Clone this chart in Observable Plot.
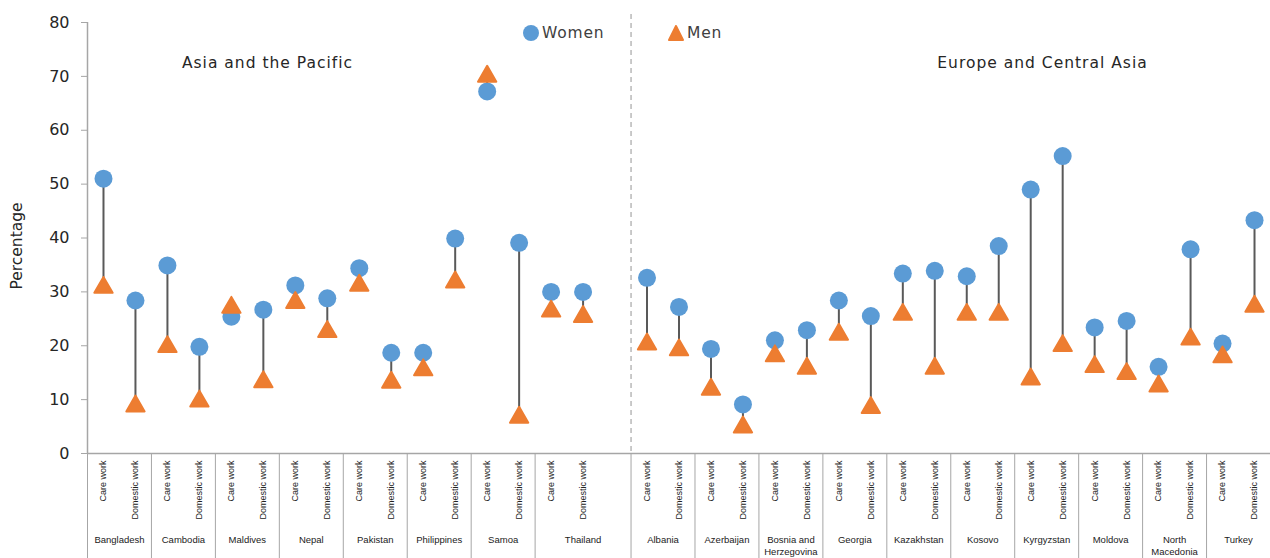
<!DOCTYPE html>
<html>
<head>
<meta charset="utf-8">
<script src="https://cdn.jsdelivr.net/npm/d3@7"></script>
<script src="https://cdn.jsdelivr.net/npm/@observablehq/plot@0.6"></script>
<style>
  html, body { margin: 0; padding: 0; background: #fff; }
  #wrap { position: relative; width: 1270px; height: 558px; }
  #legend { position: absolute; top: 20px; left: 0; width: 1270px; height: 28px; font-family: "DejaVu Sans", sans-serif; font-size: 15.5px; color: #404040; letter-spacing: 0.8px; }
  #legend .item { position: absolute; top: 0; display: flex; align-items: center; height: 26px; }
  #legend svg { display: block; margin-right: 2px; }
</style>
</head>
<body>
<div id="wrap">
  <div id="chart"></div>
  <div id="legend"></div>
</div>
<script>
// ---------------- data ----------------
const regionNames = ["Asia and the Pacific", "Europe and Central Asia"];
const asiaCountries = ["Bangladesh", "Cambodia", "Maldives", "Nepal", "Pakistan", "Philippines", "Samoa", "Thailand"];
const europeCountries = ["Albania", "Azerbaijan", "Bosnia and\nHerzegovina", "Georgia", "Kazakhstan", "Kosovo", "Kyrgyzstan", "Moldova", "North\nMacedonia", "Turkey"];
const workTypes = ["Care work", "Domestic work"];
// values in pairs per country: [care work, domestic work]
const asiaWomen = [51.0, 28.4, 34.9, 19.8, 25.4, 26.7, 31.2, 28.8, 34.4, 18.7, 18.7, 39.9, 67.2, 39.1, 30.0, 30.0];
const asiaMen   = [30.8, 8.8, 19.8, 9.7, 27.1, 13.3, 28.0, 22.6, 31.2, 13.2, 15.5, 31.8, 70.0, 6.7, 26.4, 25.4];
const europeWomen = [32.6, 27.2, 19.4, 9.1, 21.0, 22.9, 28.4, 25.5, 33.4, 33.9, 32.9, 38.5, 49.0, 55.2, 23.4, 24.6, 16.1, 37.9, 20.4, 43.3];
const europeMen   = [20.3, 19.2, 11.9, 4.9, 18.1, 15.8, 22.1, 8.5, 25.8, 15.8, 25.8, 25.8, 13.8, 20.0, 16.1, 14.8, 12.5, 21.2, 17.9, 27.3];
const yTicks = [0, 10, 20, 30, 40, 50, 60, 70, 80];
const seriesNames = ["Women", "Men"];
const colors = {Women: "#5B9BD5", Men: "#ED7D31"};

// ---------------- build table ----------------
const regions = [
  {name: regionNames[0], countries: asiaCountries, women: asiaWomen, men: asiaMen},
  {name: regionNames[1], countries: europeCountries, women: europeWomen, men: europeMen}
];
const rows = [];
const groups = [];
const regionStarts = [];
let slot = 0;
regions.forEach((reg, ri) => {
  if (ri > 0) slot += 1; // empty slot separating regions
  reg.countries.forEach((c, ci) => {
    if (ci === 0) regionStarts.push(slot);
    groups.push({country: c, first: slot});
    workTypes.forEach((w, wi) => {
      rows.push({slot, region: reg.name, country: c, work: w,
                 women: reg.women[ci * 2 + wi], men: reg.men[ci * 2 + wi]});
      slot += 1;
    });
  });
});
const nSlots = slot;
groups.forEach((g, i) => {
  g.left = g.first - 0.5;
  g.right = i < groups.length - 1 ? groups[i + 1].first - 0.5 : nSlots - 0.5;
  g.center = (g.left + g.right) / 2;
});
const boundaries = groups.map(g => g.left).concat([groups[groups.length - 1].right]);
const dividerX = regionStarts[1] - 0.5;
const workBySlot = new Map(rows.map(r => [r.slot, r.work]));
const countryByCenter = new Map(groups.map(g => [g.center, g.country]));

const grey = "#a6a6a6";
const chart = Plot.plot({
  width: 1270, height: 558,
  marginLeft: 87, marginRight: 0, marginTop: 22, marginBottom: 105,
  style: {fontFamily: "DejaVu Sans, sans-serif", background: "white", overflow: "visible"},
  x: {domain: [-0.5, nSlots - 0.5], axis: null},
  y: {domain: [0, 80], axis: null},
  marks: [
    Plot.ruleX([dividerX], {stroke: grey, strokeWidth: 1.2, strokeDasharray: "5,4", insetTop: -8}),
    Plot.ruleX([boundaries[0]], {stroke: grey, strokeWidth: 1.5}),
    Plot.ruleY([0], {stroke: grey, strokeWidth: 1.5}),
    Plot.axisY({ticks: yTicks, tickSize: 6, tickPadding: 12, fontSize: 16, label: null, stroke: grey, fill: "#262626"}),
    Plot.text(["Percentage"], {frameAnchor: "left", textAnchor: "middle", dx: -70, dy: 8, rotate: -90, fontSize: 15.5, fill: "#262626"}),
    Plot.axisX({ticks: boundaries, tickSize: 105, tickFormat: () => "", stroke: grey, label: null}),
    Plot.axisX({ticks: rows.map(r => r.slot), tickFormat: d => workBySlot.get(d), tickSize: 0, tickPadding: 7,
                tickRotate: -90, fontSize: 9, fontFamily: "Liberation Sans, Arial, sans-serif", fill: "#222", label: null}),
    Plot.axisX({ticks: groups.map(g => g.center), tickFormat: d => countryByCenter.get(d), tickSize: 0, tickPadding: 81,
                fontSize: 9.5, lineHeight: 1.25, fontFamily: "Liberation Sans, Arial, sans-serif", fill: "#222", label: null}),
    Plot.text([regionNames[0]], {frameAnchor: "top-left", textAnchor: "middle", lineAnchor: "middle", dx: 180, dy: 41, fontSize: 15.5, fill: "#262626"}),
    Plot.text([regionNames[1]], {frameAnchor: "top-left", textAnchor: "middle", lineAnchor: "middle", dx: 955, dy: 41, fontSize: 15.5, fill: "#262626"}),
    Plot.ruleX(rows, {x: "slot", y1: "women", y2: "men", stroke: "#595959", strokeWidth: 2}),
    Plot.dot(rows, {x: "slot", y: "women", r: 9, fill: colors.Women}),
    Plot.dot(rows, {x: "slot", y: "men", symbol: "triangle", r: 6.8, fill: colors.Men, stroke: colors.Men,
                    strokeWidth: 2, strokeLinejoin: "round"})
  ]
});
document.getElementById("chart").appendChild(chart);
// stretch the wide annotation texts a bit
d3.select(chart).selectAll("text").filter(function() { return regionNames.includes(this.textContent); })
  .style("letter-spacing", "1px");

// ---------------- legend ----------------
const legend = document.getElementById("legend");
const legendPos = {Women: 522, Men: 667};
seriesNames.forEach(name => {
  const item = document.createElement("div");
  item.className = "item";
  item.style.left = legendPos[name] + "px";
  const sym = name === "Women"
    ? `<svg width="18" height="18"><circle cx="9" cy="9" r="8" fill="${colors.Women}"/></svg>`
    : `<svg width="18" height="18"><polygon points="9,2 2,16 16,16" fill="${colors.Men}" stroke="${colors.Men}" stroke-width="2" stroke-linejoin="round"/></svg>`;
  item.innerHTML = sym + `<span>${name}</span>`;
  legend.appendChild(item);
});
</script>
</body>
</html>
